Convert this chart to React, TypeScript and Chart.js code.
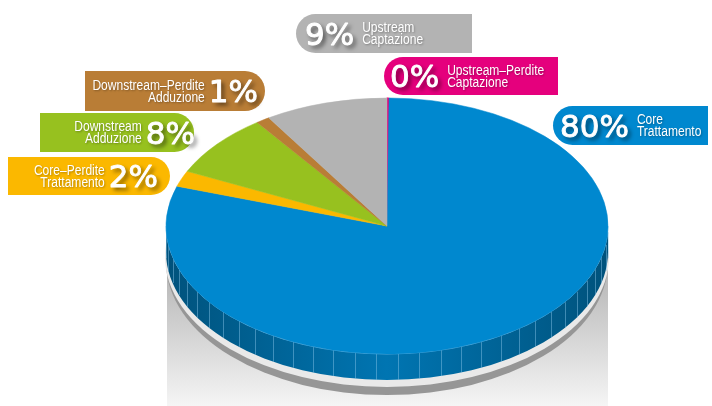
import React, { useEffect, useRef } from 'react';
import { Chart, registerables } from 'chart.js';

Chart.register(...registerables);

// ---- data ----
const sliceNames = [
  'Upstream–Perdite Captazione',
  'Core Trattamento',
  'Core–Perdite Trattamento',
  'Downstream Adduzione',
  'Downstream–Perdite Adduzione',
  'Upstream Captazione',
];
const sliceValues = [0.15, 80, 2, 8, 1, 9];
const percentLabels = ['0%', '80%', '2%', '8%', '1%', '9%'];
const labelLines = [
  ['Upstream–Perdite', 'Captazione'],
  ['Core', 'Trattamento'],
  ['Core–Perdite', 'Trattamento'],
  ['Downstream', 'Adduzione'],
  ['Downstream–Perdite', 'Adduzione'],
  ['Upstream', 'Captazione'],
];
const sliceColors = ['#e5007d', '#0088cf', '#fbb800', '#97c11f', '#b97d36', '#b3b3b3'];

// ---- layout (styles / positions) ----
const PIE = { cx: 387, cy: 226, rx: 221, ry: 128, depth: 26 };
const badgeLayout = [
  { x: 384, y: 57, w: 174, h: 38, round: 'left', textX: 390 },
  { x: 553, y: 106, w: 155, h: 39, round: 'left', textX: 560 },
  { x: 8, y: 157, w: 162, h: 38, round: 'right', textX: 158 },
  { x: 40, y: 113, w: 154, h: 39, round: 'right', textX: 195 },
  { x: 85, y: 71, w: 180, h: 40, round: 'right', textX: 258 },
  { x: 296, y: 14, w: 176, h: 39, round: 'left', textX: 305 },
];
const BIG_FONT = '31px "DejaVu Sans", sans-serif';
const SMALL_FONT = '14px "Liberation Sans", Arial, sans-serif';
const SMALL_SCALE = 0.86;

function shade(hex: string, f: number) {
  const n = parseInt(hex.slice(1), 16);
  const r = (n >> 16) & 255, g = (n >> 8) & 255, b = n & 255;
  return `rgb(${Math.round(r * f)},${Math.round(g * f)},${Math.round(b * f)})`;
}

function drawBadge(ctx: CanvasRenderingContext2D, i: number) {
  const b = badgeLayout[i];
  const r = b.h / 2;
  ctx.save();
  ctx.fillStyle = sliceColors[i];
  ctx.beginPath();
  if (b.round === 'left') {
    ctx.moveTo(b.x + r, b.y);
    ctx.lineTo(b.x + b.w, b.y);
    ctx.lineTo(b.x + b.w, b.y + b.h);
    ctx.lineTo(b.x + r, b.y + b.h);
    ctx.arc(b.x + r, b.y + r, r, Math.PI / 2, (3 * Math.PI) / 2);
  } else {
    ctx.moveTo(b.x, b.y);
    ctx.lineTo(b.x + b.w - r, b.y);
    ctx.arc(b.x + b.w - r, b.y + r, r, -Math.PI / 2, Math.PI / 2);
    ctx.lineTo(b.x, b.y + b.h);
  }
  ctx.closePath();
  ctx.fill();

  const mid = b.y + b.h / 2;
  const pct = percentLabels[i];
  ctx.font = BIG_FONT;
  ctx.textBaseline = 'alphabetic';
  ctx.textAlign = 'left';
  const pw = ctx.measureText(pct).width;
  const px = b.round === 'left' ? b.textX : b.textX - pw;
  ctx.save();
  ctx.shadowColor = 'rgba(0,0,0,0.6)';
  ctx.shadowOffsetX = 3;
  ctx.shadowOffsetY = 3;
  ctx.shadowBlur = 4;
  ctx.fillStyle = '#ffffff';
  ctx.fillText(pct, px, mid + 11);
  ctx.shadowColor = 'transparent';
  ctx.strokeStyle = '#ffffff';
  ctx.lineWidth = 0.9;
  ctx.lineJoin = 'round';
  ctx.strokeText(pct, px, mid + 11);
  ctx.restore();

  ctx.font = SMALL_FONT;
  ctx.shadowColor = 'rgba(0,0,0,0.3)';
  ctx.shadowOffsetX = 1;
  ctx.shadowOffsetY = 1;
  ctx.shadowBlur = 2;
  ctx.fillStyle = '#ffffff';
  const lines = labelLines[i];
  let sx: number;
  if (b.round === 'left') {
    ctx.textAlign = 'left';
    sx = px + pw + 8;
  } else {
    ctx.textAlign = 'right';
    sx = px - 4;
  }
  ctx.translate(sx, 0);
  ctx.scale(SMALL_SCALE, 1);
  ctx.fillText(lines[0], 0, mid - 1.5);
  ctx.fillText(lines[1], 0, mid + 10.5);
  ctx.restore();
}

const pie3d = {
  id: 'pie3d',
  beforeDatasetsDraw(chart: any) {
    const ctx: CanvasRenderingContext2D = chart.ctx;
    const meta = chart.getDatasetMeta(0);
    const arcs = meta.data;
    const { cx, cy, rx, ry, depth } = PIE;
    ctx.save();
    // background panel
    const g = ctx.createLinearGradient(0, 250, 0, 406);
    g.addColorStop(0, '#acacac');
    g.addColorStop(1, '#f5f5f5');
    ctx.fillStyle = g;
    ctx.fillRect(167, 250, 441, 156);
    // rim shadow
    ctx.fillStyle = '#969696';
    ctx.beginPath();
    ctx.ellipse(cx, cy + 36, rx, ry + 5, 0, 0, 2 * Math.PI);
    ctx.fill();
    ctx.fillStyle = '#e9e9e9';
    ctx.beginPath();
    ctx.ellipse(cx, cy + 31, rx + 1, ry + 2, 0, 0, 2 * Math.PI);
    ctx.fill();
    // sides
    arcs.forEach((arc: any, i: number) => {
      const { startAngle, endAngle } = arc.getProps(['startAngle', 'endAngle'], true);
      for (const k of [-2 * Math.PI, 0, 2 * Math.PI]) {
        const t0 = Math.max(startAngle + k, 0);
        const t1 = Math.min(endAngle + k, Math.PI);
        if (t1 <= t0) continue;
        const base = sliceColors[i];
        const grad = ctx.createLinearGradient(cx - rx, 0, cx + rx, 0);
        grad.addColorStop(0, shade(base, 0.6));
        grad.addColorStop(0.5, shade(base, 0.86));
        grad.addColorStop(1, shade(base, 0.6));
        ctx.beginPath();
        ctx.ellipse(cx, cy, rx, ry, 0, t0, t1);
        ctx.ellipse(cx, cy + depth, rx, ry, 0, t1, t0, true);
        ctx.closePath();
        ctx.fillStyle = grad;
        ctx.fill();
        ctx.strokeStyle = 'rgba(140,200,235,0.45)';
        ctx.lineWidth = 1;
        const step = Math.PI / 32;
        for (let t = Math.ceil(t0 / step) * step + step / 2; t < t1; t += step) {
          const x = Math.round(cx + rx * Math.cos(t)) + 0.5;
          const y = cy + ry * Math.sin(t);
          ctx.beginPath();
          ctx.moveTo(x, y);
          ctx.lineTo(x, y + depth);
          ctx.stroke();
        }
        ctx.strokeStyle = 'rgba(140,200,240,0.7)';
        ctx.beginPath();
        ctx.ellipse(cx, cy, rx, ry, 0, t0, t1);
        ctx.stroke();
      }
    });
    ctx.restore();
    // flatten the pie into the top ellipse
    const a0 = arcs[0];
    const R = a0.outerRadius;
    ctx.save();
    ctx.translate(cx, cy);
    ctx.scale(rx / R, ry / R);
    ctx.translate(-a0.x, -a0.y);
  },
  afterDatasetsDraw(chart: any) {
    chart.ctx.restore();
  },
  afterDraw(chart: any) {
    const ctx = chart.ctx;
    for (let i = 0; i < badgeLayout.length; i++) drawBadge(ctx, i);
  },
};

export default function App() {
  const ref = useRef<HTMLCanvasElement | null>(null);
  useEffect(() => {
    if (!ref.current) return;
    const chart = new Chart(ref.current, {
      type: 'pie',
      data: {
        labels: sliceNames,
        datasets: [
          {
            data: sliceValues,
            backgroundColor: sliceColors,
            borderColor: sliceColors,
            borderWidth: [1.2, 0.6, 0.6, 0.6, 0.6, 0.6],
            clip: false as any,
          },
        ],
      },
      options: {
        animation: false,
        responsive: false,
        devicePixelRatio: 1,
        layout: { padding: 0 },
        plugins: { legend: { display: false }, tooltip: { enabled: false } },
      },
      plugins: [pie3d],
    });
    return () => chart.destroy();
  }, []);
  return (
    <div style={{ position: 'absolute', left: 0, top: 0, width: 712, height: 406, background: '#fff' }}>
      <canvas ref={ref} width={712} height={406} style={{ display: 'block' }} />
    </div>
  );
}
